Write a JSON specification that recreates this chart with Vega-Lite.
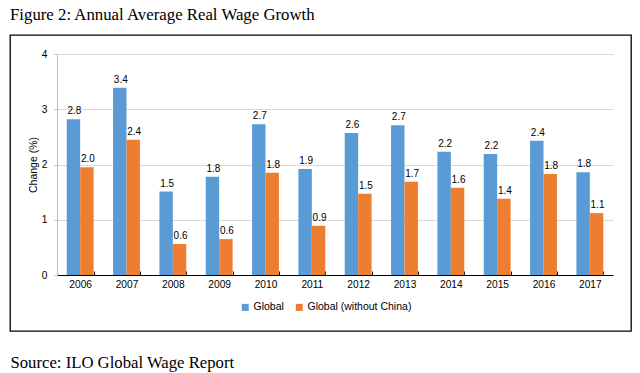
{
  "$schema": "https://vega.github.io/schema/vega-lite/v6.json",
  "width": 621,
  "height": 296,
  "autosize": {"type": "none"},
  "padding": {"left": 10, "top": 35, "right": 9, "bottom": 42},
  "background": "#ffffff",
  "title": {
    "text": "Figure 2: Annual Average Real Wage Growth",
    "anchor": "start",
    "frame": "group",
    "font": "Liberation Serif",
    "fontSize": 16.8,
    "fontWeight": "normal",
    "color": "#000000",
    "offset": 11
  },
  "data": {
    "values": [
      {"year": "2006", "series": "Global", "value": 2.82, "label": "2.8"},
      {"year": "2006", "series": "Global (without China)", "value": 1.95, "label": "2.0"},
      {"year": "2007", "series": "Global", "value": 3.39, "label": "3.4"},
      {"year": "2007", "series": "Global (without China)", "value": 2.45, "label": "2.4"},
      {"year": "2008", "series": "Global", "value": 1.51, "label": "1.5"},
      {"year": "2008", "series": "Global (without China)", "value": 0.56, "label": "0.6"},
      {"year": "2009", "series": "Global", "value": 1.78, "label": "1.8"},
      {"year": "2009", "series": "Global (without China)", "value": 0.65, "label": "0.6"},
      {"year": "2010", "series": "Global", "value": 2.73, "label": "2.7"},
      {"year": "2010", "series": "Global (without China)", "value": 1.85, "label": "1.8"},
      {"year": "2011", "series": "Global", "value": 1.92, "label": "1.9"},
      {"year": "2011", "series": "Global (without China)", "value": 0.89, "label": "0.9"},
      {"year": "2012", "series": "Global", "value": 2.57, "label": "2.6"},
      {"year": "2012", "series": "Global (without China)", "value": 1.47, "label": "1.5"},
      {"year": "2013", "series": "Global", "value": 2.71, "label": "2.7"},
      {"year": "2013", "series": "Global (without China)", "value": 1.69, "label": "1.7"},
      {"year": "2014", "series": "Global", "value": 2.23, "label": "2.2"},
      {"year": "2014", "series": "Global (without China)", "value": 1.58, "label": "1.6"},
      {"year": "2015", "series": "Global", "value": 2.19, "label": "2.2"},
      {"year": "2015", "series": "Global (without China)", "value": 1.38, "label": "1.4"},
      {"year": "2016", "series": "Global", "value": 2.43, "label": "2.4"},
      {"year": "2016", "series": "Global (without China)", "value": 1.83, "label": "1.8"},
      {"year": "2017", "series": "Global", "value": 1.86, "label": "1.8"},
      {"year": "2017", "series": "Global (without China)", "value": 1.12, "label": "1.1"}
    ]
  },
  "encoding": {
    "x": {
      "field": "year",
      "type": "nominal",
      "scale": {"range": [47, 603], "paddingInner": 0.42, "paddingOuter": 0.21},
      "axis": {
        "title": "Source: ILO Global Wage Report",
        "titleFont": "Liberation Serif",
        "titleFontSize": 16.7,
        "titleFontWeight": "normal",
        "titleColor": "#000000",
        "titleX": 0,
        "titleY": 87,
        "titleAlign": "left",
        "titleAnchor": "start",
        "titleBaseline": "middle",
        "offset": -56,
        "tickBand": "extent",
        "tickSize": -4,
        "tickColor": "#000000",
        "domainColor": "#000000",
        "labelAngle": 0,
        "labelFont": "Liberation Sans",
        "labelFontSize": 10.2,
        "labelColor": "#000000",
        "labelPadding": 8,
        "grid": false
      }
    },
    "xOffset": {
      "field": "series",
      "scale": {"domain": ["Global", "Global (without China)"], "paddingInner": 0, "paddingOuter": 0}
    },
    "y": {
      "field": "value",
      "type": "quantitative",
      "scale": {"domain": [0, 4], "range": [240, 19], "nice": false},
      "axis": {
        "title": "Change (%)",
        "values": [0, 1, 2, 3, 4],
        "offset": -47,
        "domainColor": "#bfbfbf",
        "tickColor": "#bfbfbf",
        "tickSize": 3,
        "labelPadding": 7,
        "labelFont": "Liberation Sans",
        "labelFontSize": 10.2,
        "labelColor": "#000000",
        "gridColor": "#d9d9d9",
        "titleFont": "Liberation Sans",
        "titleFontSize": 10.5,
        "titleFontWeight": "normal",
        "titleColor": "#000000",
        "titlePadding": 3
      }
    }
  },
  "layer": [
    {
      "mark": {"type": "bar"},
      "encoding": {
        "color": {
          "field": "series",
          "type": "nominal",
          "scale": {"domain": ["Global", "Global (without China)"], "range": ["#5b9bd5", "#ed7d31"]},
          "legend": {
            "orient": "none",
            "legendX": 230,
            "legendY": 267,
            "direction": "horizontal",
            "title": null,
            "symbolType": "square",
            "symbolSize": 49,
            "symbolStrokeWidth": 0,
            "labelFont": "Liberation Sans",
            "labelFontSize": 10.5,
            "labelColor": "#000000",
            "columnPadding": 10,
            "labelOffset": 3
          }
        }
      }
    },
    {
      "mark": {"type": "text", "baseline": "alphabetic", "dy": -5, "dx": 1, "font": "Liberation Sans", "fontSize": 10, "color": "#000000"},
      "encoding": {"text": {"field": "label"}}
    }
  ],
  "config": {"view": {"stroke": "#000000", "strokeWidth": 1.3}}
}
